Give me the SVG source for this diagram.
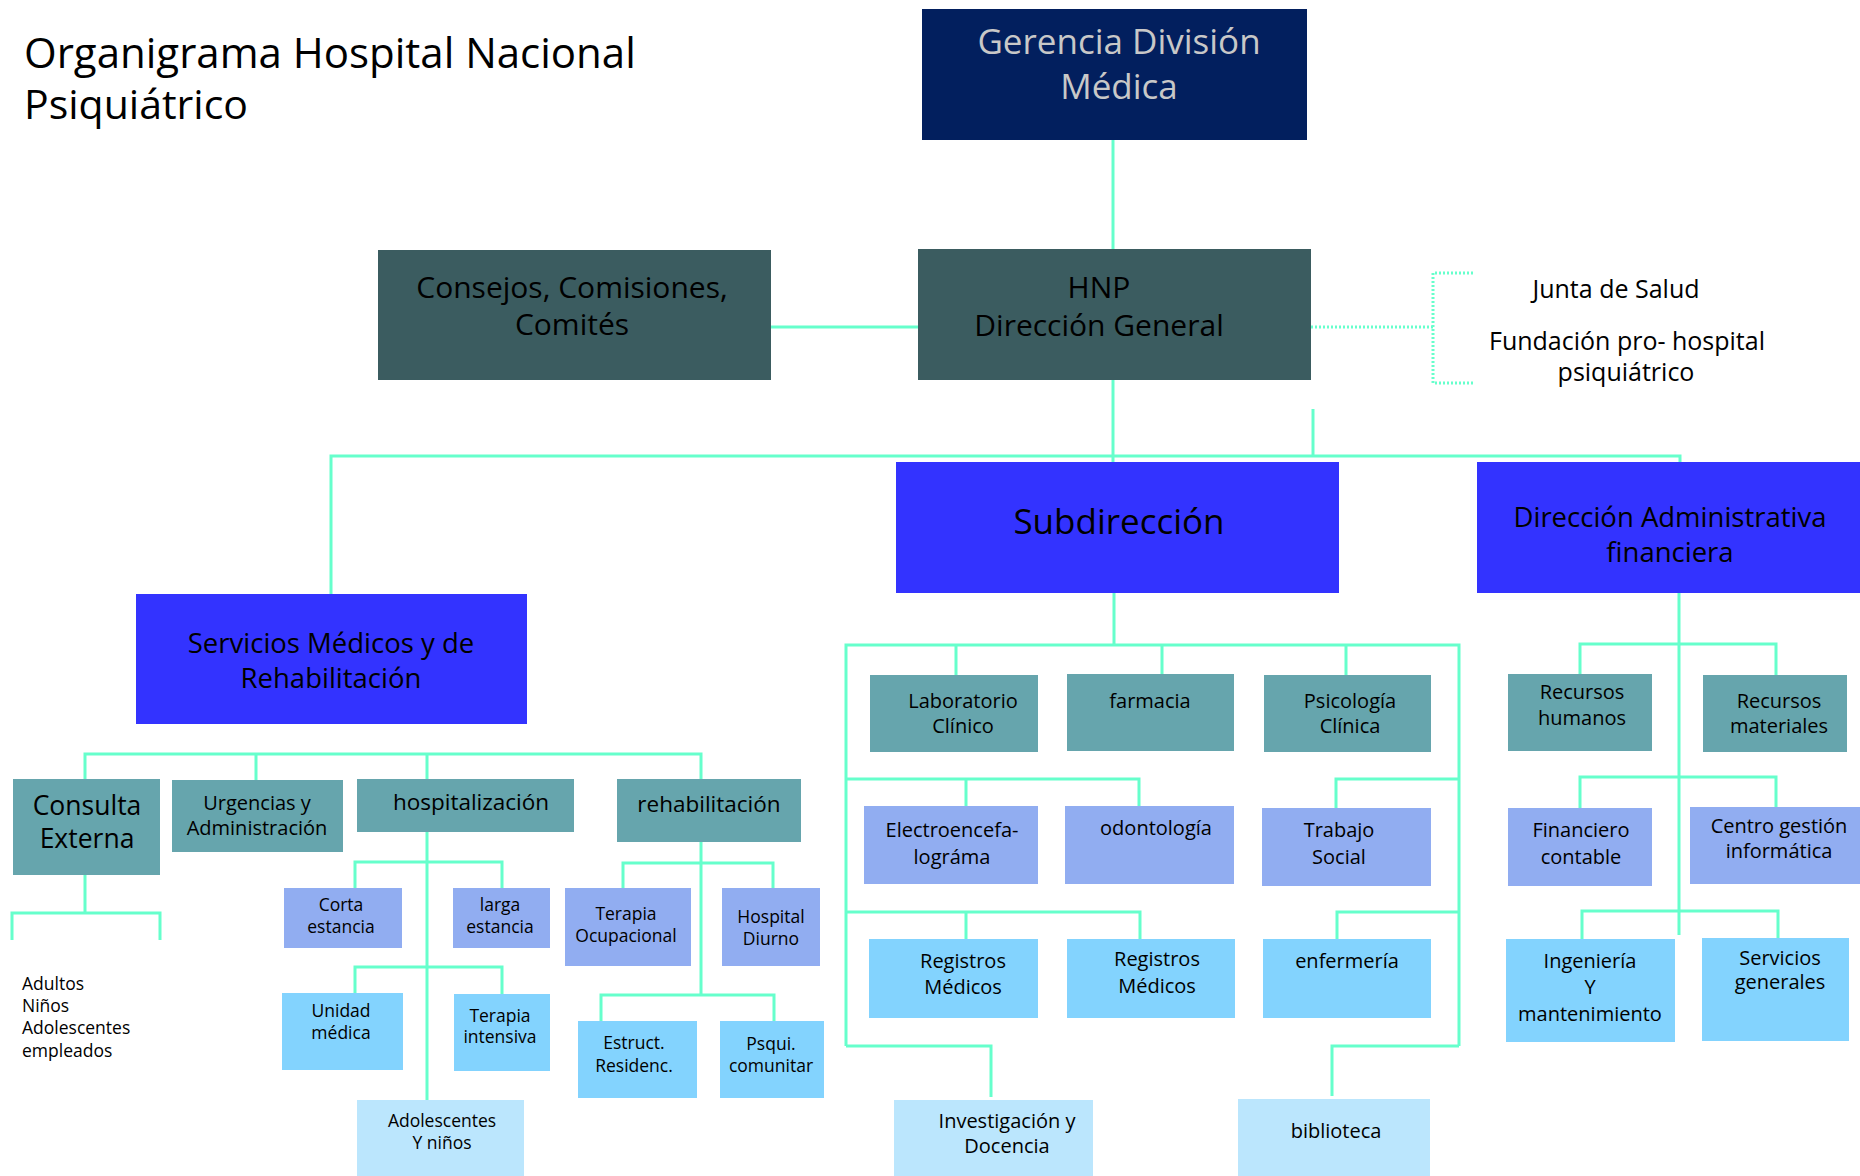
<svg xmlns="http://www.w3.org/2000/svg" width="1860" height="1176" viewBox="0 0 1860 1176">
<style>
.c{stroke:#66FFCC;stroke-width:3;fill:none}
.d{stroke:#66FFCC;stroke-width:3;fill:none;stroke-dasharray:2 2}
text{font-family:"Open Sans","Noto Sans",sans-serif;fill:#000}
.m{text-anchor:middle}
.navy{fill:#021F5E}.slate{fill:#3B5C60}.blue{fill:#3333FF}.teal{fill:#66A5AD}.peri{fill:#91ADF1}.sky{fill:#83D3FE}.pale{fill:#BBE6FD}
.f20{font-size:20px}.f17{font-size:17.5px}
</style>
<rect width="1860" height="1176" fill="#FFFFFF"/>
<g id="title">
<text x="24" y="68" font-size="42">Organigrama Hospital Nacional</text>
<text x="24" y="119" font-size="41">Psiquiátrico</text>
</g>
<g id="connectors">
<path class="c" d="M1113 140V249"/>
<path class="c" d="M771 327H918"/>
<path class="c" d="M1113 380V462"/>
<path class="c" d="M331 594V456H1680V462"/>
<path class="c" d="M1313 409V456"/>
<path class="d" d="M1311 327H1433"/>
<path class="d" d="M1473 273H1433V383H1473"/>
<path class="c" d="M85 779V754H701V779M256 754V780M427 754V779"/>
<path class="c" d="M85 875V913M12 940V913H160V940"/>
<path class="c" d="M427 832V1100M355 888V862H502V888M355 993V967H502V994"/>
<path class="c" d="M701 842V995M623 888V863H773V888M601 1021V995H774V1021"/>
<path class="c" d="M1114 593V645M846 1046V645H1459V1046M956 645V675M1162 645V674M1346 645V675"/>
<path class="c" d="M846 779H1139V806M966 779V806M1459 779H1336V808"/>
<path class="c" d="M846 912H1140V939M966 912V939M1459 912H1337V939"/>
<path class="c" d="M846 1046H991V1097M1459 1046H1332V1096"/>
<path class="c" d="M1679 593V935M1580 674V644H1776V675M1580 808V777H1776V807M1582 939V911H1778V938"/>
</g>
<g id="gerencia"><rect class="navy" x="922" y="9" width="385" height="131"/>
<text class="m" x="1119" y="54" font-size="35" style="fill:#C8C8C8">Gerencia División</text>
<text class="m" x="1119" y="99" font-size="35" style="fill:#C8C8C8">Médica</text></g>
<g id="consejos"><rect class="slate" x="378" y="250" width="393" height="130"/>
<text class="m" x="572" y="298" font-size="30">Consejos, Comisiones,</text>
<text class="m" x="572" y="335" font-size="30">Comités</text></g>
<g id="hnp"><rect class="slate" x="918" y="249" width="393" height="131"/>
<text class="m" x="1099" y="298" font-size="30">HNP</text>
<text class="m" x="1099" y="336" font-size="30">Dirección General</text></g>
<g id="junta">
<text class="m" x="1616" y="298" font-size="25">Junta de Salud</text>
<text class="m" x="1627" y="350" font-size="25">Fundación pro- hospital</text>
<text class="m" x="1626" y="381" font-size="25">psiquiátrico</text></g>
<g id="servicios"><rect class="blue" x="136" y="594" width="391" height="130"/>
<text class="m" x="331" y="653" font-size="27.5">Servicios Médicos y de</text>
<text class="m" x="331" y="688" font-size="27.5">Rehabilitación</text></g>
<g id="subdireccion"><rect class="blue" x="896" y="462" width="443" height="131"/>
<text class="m" x="1119" y="534" font-size="35">Subdirección</text></g>
<g id="direccion-adm"><rect class="blue" x="1477" y="462" width="383" height="131"/>
<text class="m" x="1670" y="527" font-size="27.5">Dirección Administrativa</text>
<text class="m" x="1670" y="562" font-size="27.5">financiera</text></g>
<g id="consulta"><rect class="teal" x="13" y="779" width="147" height="96"/>
<text class="m" x="87" y="815" font-size="26.5">Consulta</text>
<text class="m" x="87" y="848" font-size="26.5">Externa</text></g>
<g id="consulta-list">
<text class="f17" x="22" y="990">Adultos</text>
<text class="f17" x="22" y="1012">Niños</text>
<text class="f17" x="22" y="1034">Adolescentes</text>
<text class="f17" x="22" y="1057">empleados</text></g>
<g id="urgencias"><rect class="teal" x="172" y="780" width="171" height="72"/>
<text class="m f20" x="257" y="810">Urgencias y</text>
<text class="m f20" x="257" y="835">Administración</text></g>
<g id="hospitalizacion"><rect class="teal" x="357" y="779" width="217" height="53"/>
<text class="m" x="471" y="810" font-size="22.5">hospitalización</text></g>
<g id="rehabilitacion"><rect class="teal" x="617" y="779" width="184" height="63"/>
<text class="m" x="709" y="812" font-size="22.5">rehabilitación</text></g>
<g id="corta"><rect class="peri" x="284" y="888" width="118" height="60"/>
<text class="m f17" x="341" y="911">Corta</text><text class="m f17" x="341" y="933">estancia</text></g>
<g id="larga"><rect class="peri" x="453" y="888" width="97" height="60"/>
<text class="m f17" x="500" y="911">larga</text><text class="m f17" x="500" y="933">estancia</text></g>
<g id="unidad"><rect class="sky" x="282" y="993" width="121" height="77"/>
<text class="m f17" x="341" y="1017">Unidad</text><text class="m f17" x="341" y="1039">médica</text></g>
<g id="terapia-int"><rect class="sky" x="454" y="994" width="96" height="77"/>
<text class="m f17" x="500" y="1022">Terapia</text><text class="m f17" x="500" y="1043">intensiva</text></g>
<g id="adolescentes"><rect class="pale" x="357" y="1100" width="167" height="76"/>
<text class="m f17" x="442" y="1127">Adolescentes</text><text class="m f17" x="442" y="1149">Y niños</text></g>
<g id="terapia-ocu"><rect class="peri" x="565" y="888" width="126" height="78"/>
<text class="m f17" x="626" y="920">Terapia</text><text class="m f17" x="626" y="942">Ocupacional</text></g>
<g id="hospital-diurno"><rect class="peri" x="722" y="888" width="98" height="78"/>
<text class="m f17" x="771" y="923">Hospital</text><text class="m f17" x="771" y="945">Diurno</text></g>
<g id="estruct"><rect class="sky" x="578" y="1021" width="119" height="77"/>
<text class="m f17" x="634" y="1049">Estruct.</text><text class="m f17" x="634" y="1072">Residenc.</text></g>
<g id="psqui"><rect class="sky" x="720" y="1021" width="104" height="77"/>
<text class="m f17" x="771" y="1050">Psqui.</text><text class="m f17" x="771" y="1072">comunitar</text></g>
<g id="laboratorio"><rect class="teal" x="870" y="675" width="168" height="77"/>
<text class="m f20" x="963" y="708">Laboratorio</text><text class="m f20" x="963" y="733">Clínico</text></g>
<g id="farmacia"><rect class="teal" x="1067" y="674" width="167" height="77"/>
<text class="m f20" x="1150" y="708">farmacia</text></g>
<g id="psicologia"><rect class="teal" x="1264" y="675" width="167" height="77"/>
<text class="m f20" x="1350" y="708">Psicología</text><text class="m f20" x="1350" y="733">Clínica</text></g>
<g id="electro"><rect class="peri" x="864" y="806" width="174" height="78"/>
<text class="m f20" x="952" y="837">Electroencefa-</text><text class="m f20" x="952" y="864">lográma</text></g>
<g id="odontologia"><rect class="peri" x="1065" y="806" width="169" height="78"/>
<text class="m f20" x="1156" y="835">odontología</text></g>
<g id="trabajo-social"><rect class="peri" x="1262" y="808" width="169" height="78"/>
<text class="m f20" x="1339" y="837">Trabajo</text><text class="m f20" x="1339" y="864">Social</text></g>
<g id="registros1"><rect class="sky" x="869" y="939" width="169" height="79"/>
<text class="m f20" x="963" y="968">Registros</text><text class="m f20" x="963" y="994">Médicos</text></g>
<g id="registros2"><rect class="sky" x="1067" y="939" width="168" height="79"/>
<text class="m f20" x="1157" y="966">Registros</text><text class="m f20" x="1157" y="993">Médicos</text></g>
<g id="enfermeria"><rect class="sky" x="1263" y="939" width="168" height="79"/>
<text class="m f20" x="1347" y="968">enfermería</text></g>
<g id="investigacion"><rect class="pale" x="894" y="1100" width="199" height="76"/>
<text class="m f20" x="1007" y="1128">Investigación y</text><text class="m f20" x="1007" y="1153">Docencia</text></g>
<g id="biblioteca"><rect class="pale" x="1238" y="1099" width="192" height="77"/>
<text class="m f20" x="1336" y="1138">biblioteca</text></g>
<g id="rrhh"><rect class="teal" x="1508" y="674" width="144" height="77"/>
<text class="m f20" x="1582" y="699">Recursos</text><text class="m f20" x="1582" y="725">humanos</text></g>
<g id="rrmm"><rect class="teal" x="1703" y="675" width="144" height="77"/>
<text class="m f20" x="1779" y="708">Recursos</text><text class="m f20" x="1779" y="733">materiales</text></g>
<g id="financiero"><rect class="peri" x="1508" y="808" width="144" height="78"/>
<text class="m f20" x="1581" y="837">Financiero</text><text class="m f20" x="1581" y="864">contable</text></g>
<g id="centro-gestion"><rect class="peri" x="1690" y="807" width="170" height="77"/>
<text class="m f20" x="1779" y="833">Centro gestión</text><text class="m f20" x="1779" y="858">informática</text></g>
<g id="ingenieria"><rect class="sky" x="1506" y="939" width="169" height="103"/>
<text class="m f20" x="1590" y="968">Ingeniería</text><text class="m f20" x="1590" y="994">Y</text><text class="m f20" x="1590" y="1021">mantenimiento</text></g>
<g id="servicios-gen"><rect class="sky" x="1702" y="938" width="147" height="103"/>
<text class="m f20" x="1780" y="965">Servicios</text><text class="m f20" x="1780" y="989">generales</text></g>
</svg>
